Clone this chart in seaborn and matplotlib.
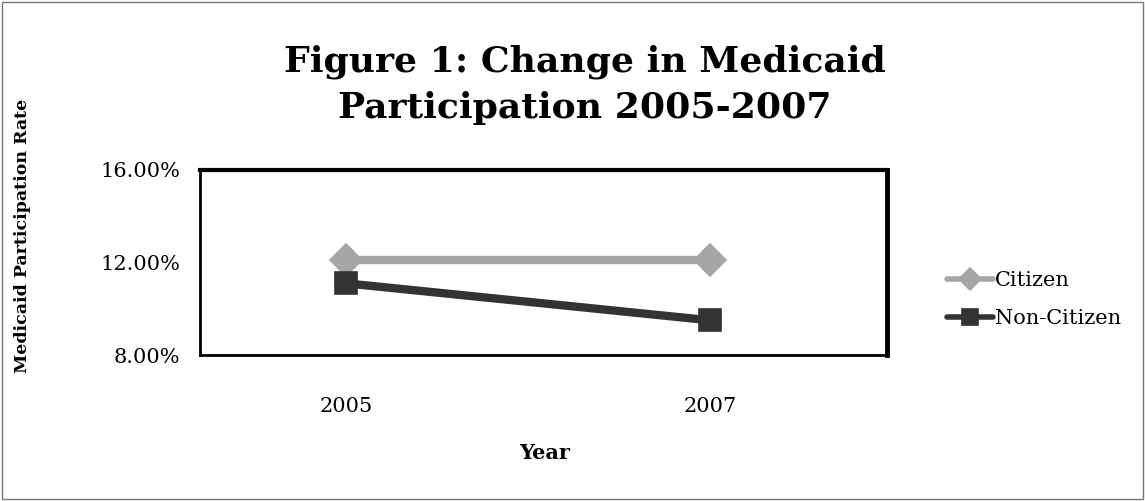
import numpy as np
import pandas as pd
import matplotlib
matplotlib.use("Agg")
import matplotlib.pyplot as plt
from matplotlib.patches import Rectangle
import seaborn as sns

# data
years = ["2005", "2007"]
citizen = [12.1, 12.1]
non_citizen = [11.1, 9.5]
series_names = ["Citizen", "Non-Citizen"]

df = pd.DataFrame({
    "year": years * 2,
    "pos": [0, 1] * 2,
    "rate": citizen + non_citizen,
    "group": [series_names[0]] * 2 + [series_names[1]] * 2,
})

sns.set_style("white")
plt.rcParams['font.family'] = ['DejaVu Serif']
plt.rcParams['text.color'] = 'black'
plt.rcParams['xtick.color'] = 'black'
plt.rcParams['ytick.color'] = 'black'

fig = plt.figure(figsize=(11.45, 5.01), dpi=100)
ax = fig.add_axes([0.1747, 0.2914, 0.6, 0.3693])

sns.lineplot(data=df, x="pos", y="rate", hue="group", style="group",
             palette={"Citizen": "#a6a6a6", "Non-Citizen": "#333333"},
             markers={"Citizen": "D", "Non-Citizen": "s"}, dashes=False,
             linewidth=6, markersize=16, markeredgewidth=1.2, ax=ax)
for line in ax.lines:
    line.set_markeredgecolor(line.get_color())

ax.set_xlim(-0.4, 1.485)
ax.set_ylim(8, 16)
ax.set_yticks([8, 12, 16])
ax.set_yticklabels(["{:.2f}%".format(v) for v in [8, 12, 16]], fontsize=15)
ax.set_xticks([0, 1])
ax.set_xticklabels(years, fontsize=15)
ax.tick_params(axis="x", length=0, pad=30)
ax.tick_params(axis="y", length=0, pad=14)
ax.set_xlabel("")
ax.set_ylabel("")
for s in ax.spines.values():
    s.set_visible(True)
    s.set_color("black")
    s.set_linewidth(2)
ax.spines["top"].set_linewidth(3)
ax.spines["right"].set_linewidth(3.5)

leg = ax.legend(loc="center left", bbox_to_anchor=(1.06, 0.3), frameon=False,
                fontsize=15, handlelength=2.2, handletextpad=0.1,
                labelspacing=0.9, markerscale=0.7)
for h in leg.legend_handles:
    h.set_linewidth(4)

fig.text(0.511, 0.83, "Figure 1: Change in Medicaid\nParticipation 2005-2007",
         ha="center", va="center", fontsize=26, fontweight="bold",
         linespacing=1.45)
fig.text(0.476, 0.095, "Year", ha="center", va="center", fontsize=15,
         fontweight="bold")
fig.text(0.02, 0.53, "Medicaid Participation Rate", ha="center", va="center",
         rotation=90, fontsize=12.5, fontweight="bold")

fig.patches.append(Rectangle((0.002, 0.004), 0.996, 0.992, transform=fig.transFigure,
                             fill=False, edgecolor="#777777", linewidth=1))

fig.savefig("out.png", dpi=100)
